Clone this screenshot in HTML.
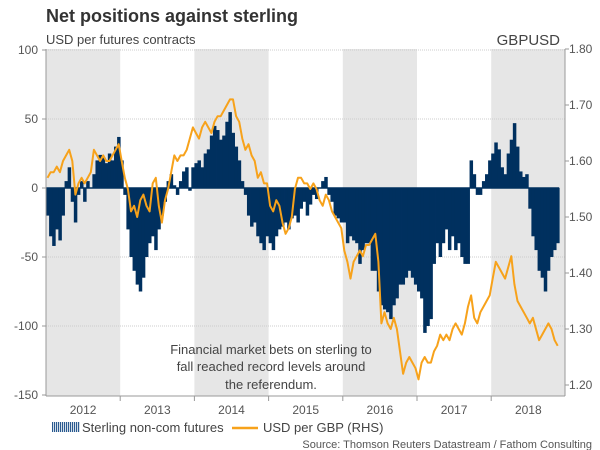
<!DOCTYPE html>
<html><head><meta charset="utf-8"><style>
html,body{margin:0;padding:0;background:#fff;}
svg{display:block;font-family:"Liberation Sans",Arial,sans-serif;}
</style></head><body>
<svg id="chart" width="600" height="450" viewBox="0 0 600 450" xmlns="http://www.w3.org/2000/svg">
<text x="46" y="22" font-size="18" font-weight="bold" fill="#333">Net positions against sterling</text>
<text x="46" y="44" font-size="13" fill="#444">USD per futures contracts</text>
<text x="560" y="45" font-size="15" fill="#444" text-anchor="end">GBPUSD</text>
<g id="bands"></g><g id="grid"></g><g id="bars"></g><g id="line"></g><g id="axes"></g>
<g font-size="13" fill="#444" text-anchor="middle">
<text x="271" y="354">Financial market bets on sterling to</text>
<text x="271" y="371">fall reached record levels around</text>
<text x="271" y="389">the referendum.</text>
</g>
<g font-size="13" fill="#444">
<g>
<g id="legicon"></g>
<text x="82" y="432">Sterling non-com futures</text></g>
<g>
<line x1="232" y1="428" x2="258" y2="428" stroke="#f7a21b" stroke-width="2.5"/>
<text x="263" y="432">USD per GBP (RHS)</text></g>
</g>
<text x="592" y="448" font-size="11" fill="#555" text-anchor="end">Source: Thomson Reuters Datastream / Fathom Consulting</text>
</svg>
<script>
const years = ['2012','2013','2014','2015','2016','2017','2018'];
const leftTicks = [100,50,0,-50,-100,-150];
const rightTicks = ['1.80','1.70','1.60','1.50','1.40','1.30','1.20'];
// semi-monthly net positions from Jan 2012
const netPositions = [
-20,-35,-42,-30,-38,-20,5,15,-10,-25,-5,5,-10,5,0,10,20,24,22,18,25,20,30,37,
20,-5,-30,-50,-60,-70,-75,-65,-50,-40,-35,-45,-30,-20,-10,5,10,2,-5,5,12,15,-2,15,
18,20,15,25,28,38,45,42,35,38,48,55,40,30,20,5,-5,-20,-28,-25,-35,-40,-45,-35,
-40,-45,-35,-30,-28,-25,-30,-22,-20,-25,-15,-10,-20,-12,-5,-8,0,5,8,-5,-10,-20,-22,-25,
-25,-40,-35,-38,-40,-55,-45,-40,-40,-60,-60,-75,-85,-88,-90,-95,-85,-80,-70,-70,-65,-60,-65,-70,
-75,-80,-105,-100,-95,-55,-40,-50,-40,-30,-45,-35,-45,-40,-50,-55,-55,20,10,-5,-5,5,10,20,
25,33,28,15,10,25,35,47,30,12,8,10,-15,-35,-45,-60,-65,-75,-60,-50,-45,-40];
// semi-monthly USD per GBP from Jan 2012
const gbpusd = [
1.57,1.58,1.58,1.59,1.58,1.60,1.61,1.62,1.60,1.54,1.56,1.57,1.56,1.57,1.58,1.62,1.61,1.60,1.61,1.60,1.60,1.61,1.62,1.63,
1.60,1.57,1.55,1.51,1.52,1.50,1.53,1.54,1.52,1.51,1.56,1.57,1.52,1.49,1.53,1.55,1.58,1.61,1.60,1.61,1.61,1.62,1.64,1.66,
1.65,1.64,1.66,1.67,1.66,1.65,1.67,1.68,1.68,1.69,1.70,1.71,1.71,1.68,1.67,1.64,1.62,1.63,1.61,1.60,1.57,1.58,1.56,1.56,
1.52,1.51,1.53,1.52,1.49,1.47,1.48,1.50,1.55,1.57,1.57,1.56,1.56,1.55,1.56,1.55,1.53,1.52,1.54,1.53,1.51,1.50,1.49,1.48,
1.44,1.42,1.39,1.42,1.43,1.44,1.43,1.45,1.45,1.46,1.47,1.42,1.31,1.33,1.31,1.30,1.32,1.30,1.26,1.22,1.24,1.25,1.24,1.23,
1.21,1.24,1.25,1.24,1.24,1.26,1.27,1.29,1.28,1.29,1.28,1.30,1.31,1.30,1.29,1.31,1.34,1.36,1.32,1.31,1.33,1.34,1.35,1.36,
1.39,1.42,1.41,1.40,1.39,1.41,1.43,1.38,1.35,1.34,1.33,1.32,1.31,1.32,1.30,1.28,1.29,1.30,1.31,1.30,1.28,1.27];

const NS='http://www.w3.org/2000/svg';
const X0=46,X1=565,YW=74.2;
const x=t=>X0+t*YW/24; // t in half-months
const yL=v=>188-v*69/50;
const yR=v=>49+(1.80-v)*560;
function mk(tag,attrs,parent){const e=document.createElementNS(NS,tag);for(const k in attrs)e.setAttribute(k,attrs[k]);parent.appendChild(e);return e;}
const bands=document.getElementById('bands'),grid=document.getElementById('grid'),bars=document.getElementById('bars'),line=document.getElementById('line'),axes=document.getElementById('axes');
years.forEach((yr,i)=>{
  const xa=X0+i*YW;
  if(i%2===0){const r=mk('rect',{x:xa,y:49,width:YW,height:347,fill:'#e6e6e6'},bands);
    
    }
  const t=mk('text',{x:xa+YW/2,y:414,'font-size':12,fill:'#555','text-anchor':'middle'},axes);t.textContent=yr;
  
  
  if(i>0){mk('line',{x1:xa,y1:396,x2:xa,y2:401,stroke:'#999'},axes);}
});
leftTicks.forEach(v=>{
  const yy=yL(v);
  if(v!==0&&v!==-150){const g=mk('line',{x1:X0,y1:yy,x2:X1,y2:yy,stroke:'#ccc','stroke-dasharray':'1,1'},grid);
    
    }
  mk('line',{x1:X0-4,y1:yy,x2:X0,y2:yy,stroke:'#999'},axes);
  const t=mk('text',{x:38,y:yy+4,'font-size':12,fill:'#555','text-anchor':'end'},axes);t.textContent=v;
  
  
});
rightTicks.forEach(s=>{
  const yy=yR(parseFloat(s));
  mk('line',{x1:X1,y1:yy,x2:X1+4,y2:yy,stroke:'#999'},axes);
  const t=mk('text',{x:569,y:yy+4,'font-size':12,fill:'#555'},axes);t.textContent=s;
  
  
});
mk('line',{x1:X0,y1:49,x2:X0,y2:396,stroke:'#999'},axes);
mk('line',{x1:X1,y1:49,x2:X1,y2:396,stroke:'#999'},axes);
mk('line',{x1:X0,y1:396,x2:X1,y2:396,stroke:'#999'},axes);
netPositions.forEach((v,i)=>{
  const y0=yL(0),yy=yL(v);
  const r=mk('rect',{x:x(i),y:Math.min(y0,yy),width:YW/24+0.4,height:Math.abs(yy-y0),fill:'#00305f'},bars);
  
  
});
mk('line',{x1:X0,y1:yL(0),x2:x(netPositions.length),y2:yL(0),stroke:'#00305f','stroke-width':1.5},bars);
const pts=gbpusd.map((v,i)=>x(i+0.5).toFixed(1)+','+yR(v).toFixed(1)).join(' ');
const pl=mk('polyline',{points:pts,fill:'none',stroke:'#f7a21b','stroke-width':2,'stroke-linejoin':'round'},line);


const li=document.getElementById('legicon');
for(let k=0;k<14;k++){mk('rect',{x:52+k*2,y:422,width:1.2,height:10,fill:'#2a5a90'},li);}
</script>
</body></html>
